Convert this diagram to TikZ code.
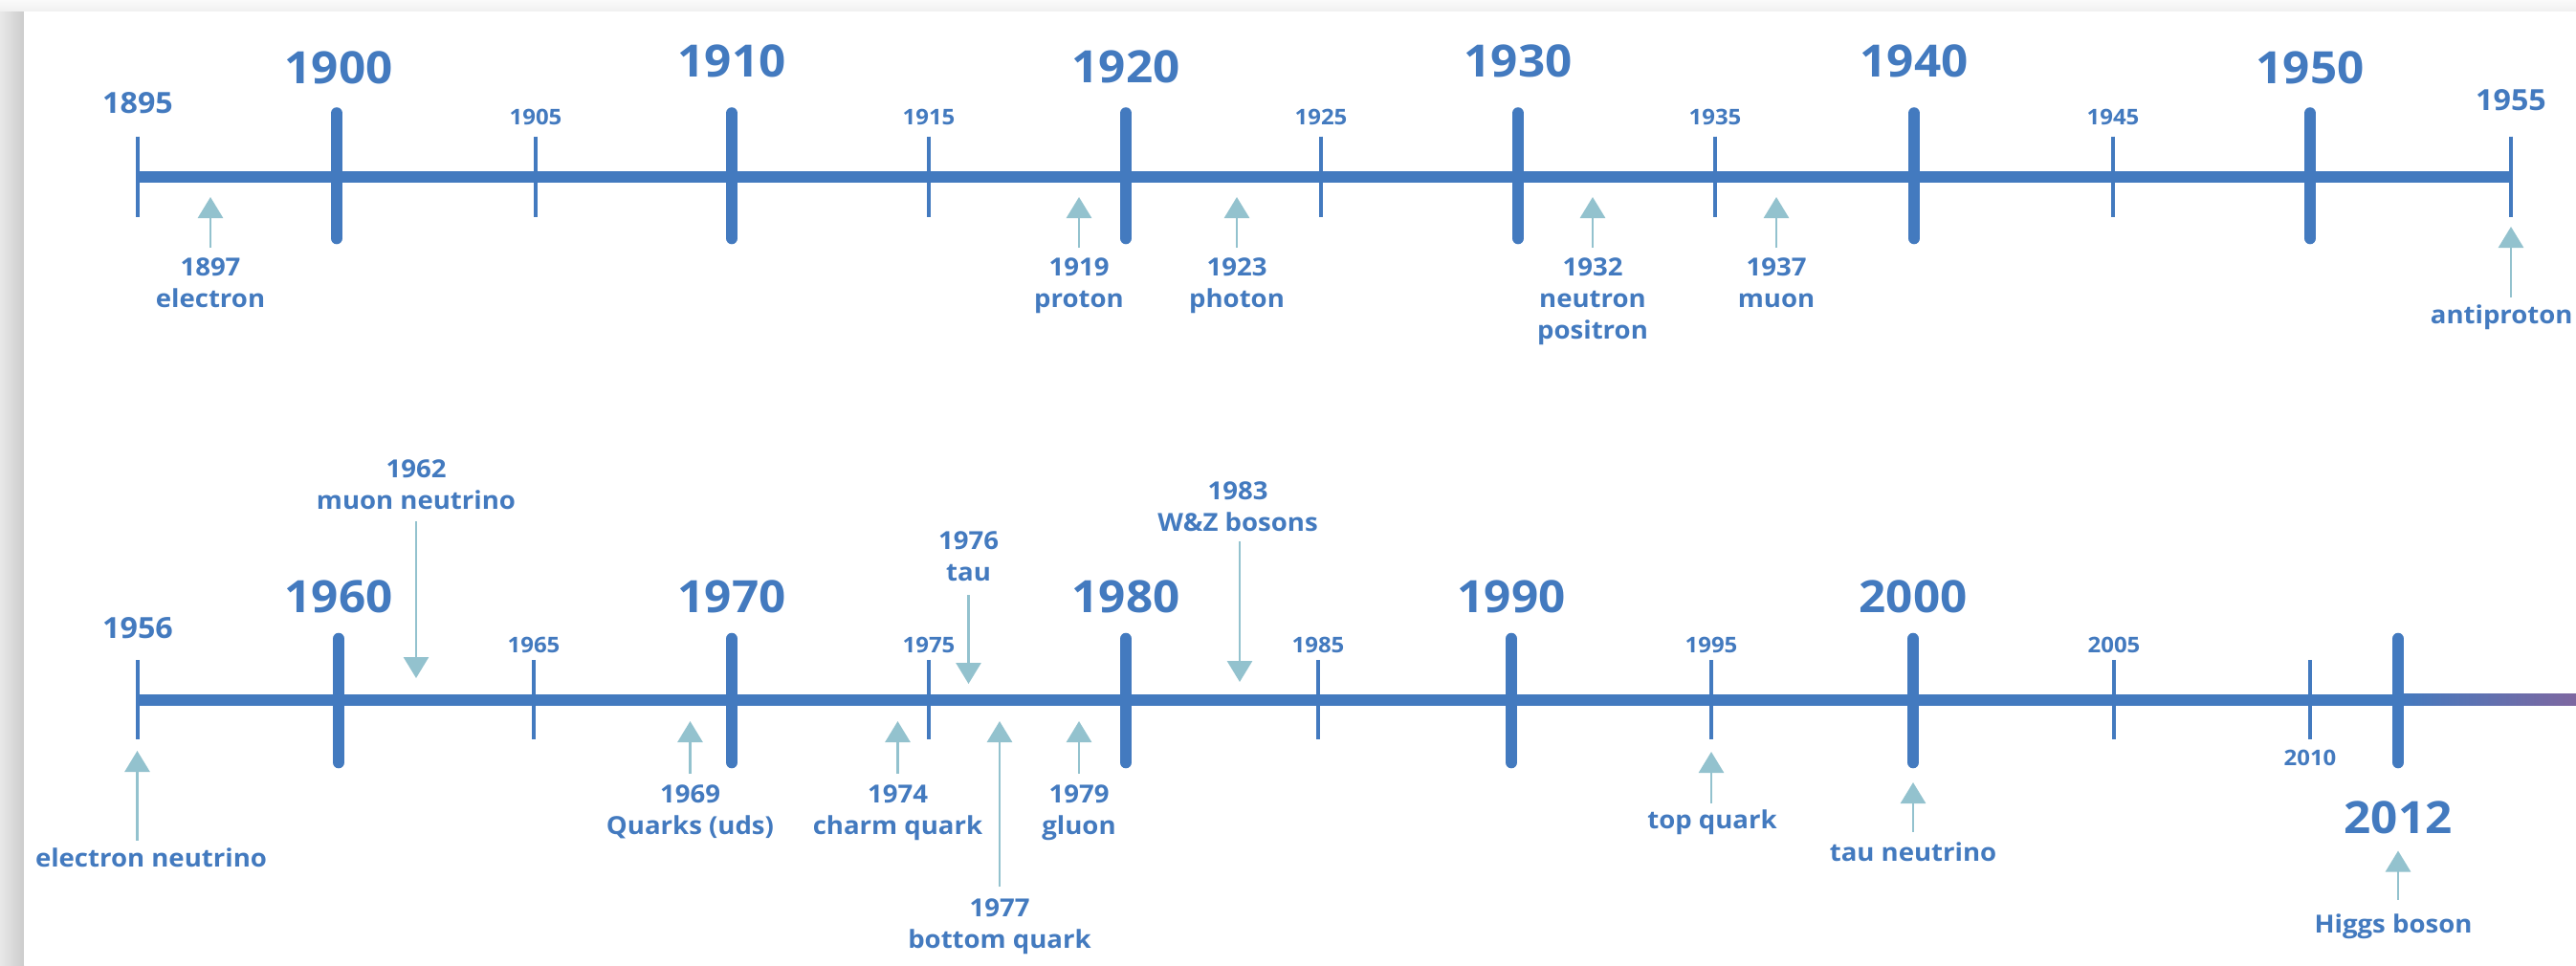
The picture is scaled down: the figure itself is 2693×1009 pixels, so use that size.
\documentclass[tikz,border=0pt]{standalone}
\usepackage{fontspec}
\setmainfont{Open Sans}[FakeStretch=1.06]
\usetikzlibrary{arrows.meta}
\definecolor{tlblue}{RGB}{67,122,191}
\definecolor{tlpurple}{RGB}{126,103,160}
\definecolor{tlarrow}{RGB}{147,194,206}
\begin{document}
\begin{tikzpicture}[x=0.5pt,y=-0.5pt,
  axisline/.style={line width=6pt, draw=tlblue},
  majortick/.style={line width=6.3pt, draw=tlblue, line cap=round},
  minortick/.style={line width=2.4pt, draw=tlblue},
  bigyear/.style={font=\fontsize{23.3}{28}\selectfont\bfseries, text=tlblue, inner sep=0pt},
  midyear/.style={font=\fontsize{15.2}{18}\selectfont\bfseries, text=tlblue, inner sep=0pt},
  smallyear/.style={font=\fontsize{11.3}{13}\selectfont\bfseries, text=tlblue, inner sep=0pt},
  evlabel/.style={font=\fontsize{13}{16.5}\selectfont\bfseries, text=tlblue, inner sep=0pt, align=center},
  evarrow/.style={draw=tlarrow, line width=1.4pt, -{Triangle[width=13pt,length=11pt]}}
]
\useasboundingbox (0,0) rectangle (2693,1009);
% background and card shadow
\fill[gray!12] (0,0) rectangle (2693,1009);
\shade[top color=gray!4, bottom color=gray!12] (0,0) rectangle (2693,12);
\shade[left color=gray!18, right color=gray!40] (0,12) rectangle (25,1009);
\fill[white] (25,12) rectangle (2693,1009);

% ===== top timeline =====
\draw[axisline] (144,184.5) -- (2625,184.5);
\foreach \x/\n in {144/1895,560/1905,971/1915,1381/1925,1793/1935,2209/1945,2625/1955}
  \draw[minortick] (\x,142.5) -- (\x,227);
\foreach \x/\n in {352/1900,765/1910,1177/1920,1587/1930,2001/1940,2415/1950}
  \draw[majortick] (\x,118.5) -- (\x,249);
% year labels
\node[midyear] (y1895) at (144,108) {1895};
\node[midyear] (y1955) at (2625,105) {1955};
\foreach \x/\n in {560/1905,971/1915,1381/1925,1793/1935,2209/1945}
  \node[smallyear] (y\n) at (\x,122) {\n};
\node[bigyear] (y1900) at (354,71) {1900};
\node[bigyear] (y1910) at (765,63.5) {1910};
\node[bigyear] (y1920) at (1177,70) {1920};
\node[bigyear] (y1930) at (1587,63.5) {1930};
\node[bigyear] (y1940) at (2001,63.5) {1940};
\node[bigyear] (y1950) at (2415,71) {1950};
% events
\coordinate (t1897) at (220,206);
\coordinate (t1919) at (1128,206);
\coordinate (t1923) at (1293,206);
\coordinate (t1932) at (1665,206);
\coordinate (t1937) at (1857,206);
\coordinate (t1955) at (2625,237);
\node[evlabel, anchor=north] (e1897) at (220,269) {1897\\electron};
\node[evlabel, anchor=north] (e1919) at (1128,269) {1919\\proton};
\node[evlabel, anchor=north] (e1923) at (1293,269) {1923\\photon};
\node[evlabel, anchor=north] (e1932) at (1665,269) {1932\\neutron\\positron};
\node[evlabel, anchor=north] (e1937) at (1857,269) {1937\\muon};
\node[evlabel, anchor=base east] (e1955) at (2690,338) {antiproton};
\draw[evarrow, shorten <=3.5pt] (t1955 |- e1955.north) -- (t1955);
\draw[evarrow, shorten <=5pt] (t1897 |- e1897.north) -- (t1897);
\draw[evarrow, shorten <=5pt] (t1919 |- e1919.north) -- (t1919);
\draw[evarrow, shorten <=5pt] (t1923 |- e1923.north) -- (t1923);
\draw[evarrow, shorten <=5pt] (t1932 |- e1932.north) -- (t1932);
\draw[evarrow, shorten <=5pt] (t1937 |- e1937.north) -- (t1937);

% ===== bottom timeline =====
\draw[axisline] (144,731.5) -- (2508,731.5);
\shade[left color=tlblue, right color=tlpurple] (2507,725.5) rectangle (2693,737.5);
\foreach \x/\n in {144/1956,558/1965,971/1975,1378/1985,1789/1995,2210/2005,2415/2010}
  \draw[minortick] (\x,690) -- (\x,772.5);
\foreach \x/\n in {354/1960,765/1970,1177/1980,1580/1990,2000/2000,2507/2012}
  \draw[majortick] (\x,668) -- (\x,797);
\node[midyear] (y1956) at (144,657) {1956};
\foreach \x/\n in {558/1965,971/1975,1378/1985,1789/1995,2210/2005}
  \node[smallyear] (y\n) at (\x,674) {\n};
\node[smallyear] (y2010) at (2415,792) {2010};
\foreach \x/\n in {354/1960,765/1970,1177/1980,1580/1990,2000/2000}
  \node[bigyear] (y\n) at (\x,624) {\n};
\node[bigyear] (y2012) at (2507,855) {2012};
% events
\coordinate (t1956) at (143.5,785);
\coordinate (t1962) at (435,709);
\coordinate (t1969) at (721.5,754);
\coordinate (t1974) at (938.5,754);
\coordinate (t1976) at (1012.5,715);
\coordinate (t1977) at (1045,754);
\coordinate (t1979) at (1128,754);
\coordinate (t1983) at (1296,713);
\coordinate (t1995) at (1789,786);
\coordinate (t2000) at (2000,818);
\coordinate (t2012) at (2507,889.5);
\node[evlabel, anchor=base] (e1956) at (158,906) {electron neutrino};
\node[evlabel, anchor=north] (e1962) at (435,480.5) {1962\\muon neutrino};
\node[evlabel, anchor=north] (e1969) at (721.5,820) {1969\\Quarks (uds)};
\node[evlabel, anchor=north] (e1974) at (938.5,820) {1974\\charm quark};
\node[evlabel, anchor=north] (e1976) at (1012.5,555.5) {1976\\tau};
\node[evlabel, anchor=north] (e1977) at (1045,939) {1977\\bottom quark};
\node[evlabel, anchor=north] (e1979) at (1128,820) {1979\\gluon};
\node[evlabel, anchor=north] (e1983) at (1294,503) {1983\\W\&Z bosons};
\node[evlabel, anchor=base] (e1995) at (1790,866) {top quark};
\node[evlabel, anchor=base] (e2000) at (2000,900) {tau neutrino};
\node[evlabel, anchor=base] (e2012) at (2502,975) {Higgs boson};
\draw[evarrow, shorten <=3.5pt] (t1956 |- e1956.north) -- (t1956);
\draw[evarrow, shorten <=6pt] (t1962 |- e1962.south) -- (t1962);
\draw[evarrow, shorten <=5.5pt] (t1969 |- e1969.north) -- (t1969);
\draw[evarrow, shorten <=5.5pt] (t1974 |- e1974.north) -- (t1974);
\draw[evarrow, shorten <=7pt] (t1976 |- e1976.south) -- (t1976);
\draw[evarrow, shorten <=6pt] (t1977 |- e1977.north) -- (t1977);
\draw[evarrow, shorten <=5.5pt] (t1979 |- e1979.north) -- (t1979);
\draw[evarrow, shorten <=5pt] (t1983 |- e1983.south) -- (t1983);
\draw[evarrow, shorten <=3pt] (t1995 |- e1995.north) -- (t1995);
\draw[evarrow, shorten <=5pt] (t2000 |- e2000.north) -- (t2000);
\draw[evarrow, shorten <=7pt] (t2012 |- e2012.north) -- (t2012);
\end{tikzpicture}
\end{document}
